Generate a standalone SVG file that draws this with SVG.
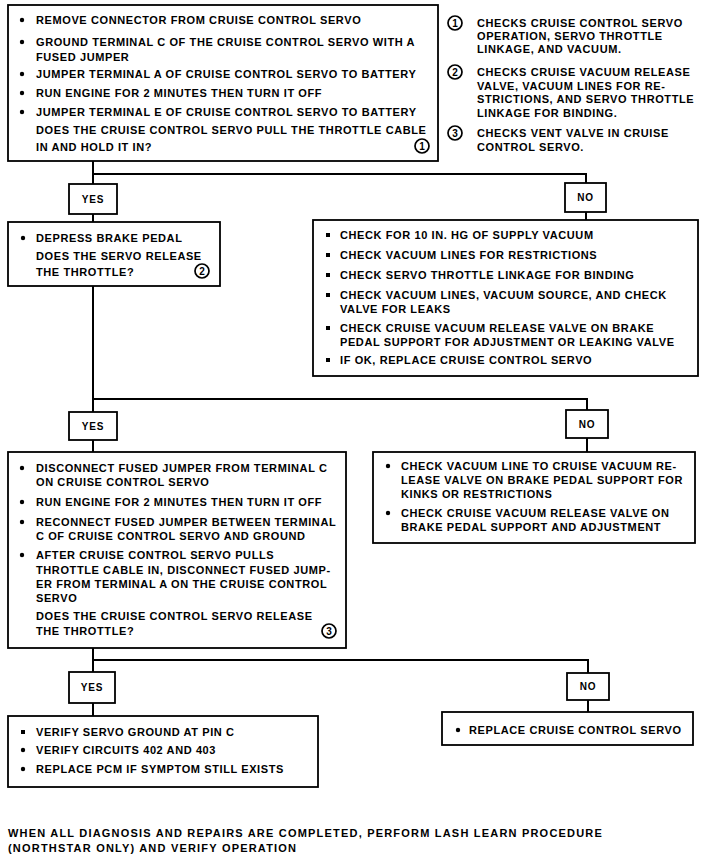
<svg xmlns="http://www.w3.org/2000/svg" width="720" height="868" viewBox="0 0 720 868">
<style>
.bx{fill:#fff;stroke:#000;stroke-width:1.8}
.ln{fill:none;stroke:#000;stroke-width:2}
text{font-family:"Liberation Sans",Arial,sans-serif;font-weight:bold;font-size:11px;letter-spacing:0.6px;fill:#000}
.lbl{text-anchor:middle;font-size:10px;letter-spacing:0.8px}
.num{text-anchor:middle;font-size:10px;letter-spacing:0}
.ft{letter-spacing:1.2px}
.cir{fill:#fff;stroke:#000;stroke-width:1.7}
.bul{fill:#000}
</style>
<rect width="720" height="868" fill="#fff"/>
<g id="connectors">
<path class="ln" d="M93,161 V184 M93,214 V222 M93,174 H586 V183 M586,212 V220"/>
<path class="ln" d="M93,286 V412 M93,440 V452 M93,399 H587 V410 M587,438 V452"/>
<path class="ln" d="M93,648 V672 M93,703 V716 M93,660 H588 V673 M588,700 V712"/>
</g>
<g id="step1">
<rect class="bx" x="8" y="5" width="430" height="156"/>
<circle class="bul" cx="22" cy="20" r="2.2"/>
<text x="36" y="24">REMOVE CONNECTOR FROM CRUISE CONTROL SERVO</text>
<circle class="bul" cx="22" cy="42" r="2.2"/>
<text x="36" y="46">GROUND TERMINAL C OF THE CRUISE CONTROL SERVO WITH A</text>
<text x="36" y="61">FUSED JUMPER</text>
<circle class="bul" cx="22" cy="74" r="2.2"/>
<text x="36" y="78">JUMPER TERMINAL A OF CRUISE CONTROL SERVO TO BATTERY</text>
<circle class="bul" cx="22" cy="93" r="2.2"/>
<text x="36" y="97">RUN ENGINE FOR 2 MINUTES THEN TURN IT OFF</text>
<circle class="bul" cx="22" cy="112" r="2.2"/>
<text x="36" y="116">JUMPER TERMINAL E OF CRUISE CONTROL SERVO TO BATTERY</text>
<text x="36" y="134">DOES THE CRUISE CONTROL SERVO PULL THE THROTTLE CABLE</text>
<text x="36" y="151">IN AND HOLD IT IN?</text>
<circle class="cir" cx="422" cy="146" r="7"/>
<text class="num" x="422" y="149.5">1</text>
</g>
<g id="legend">
<circle class="cir" cx="455" cy="23" r="7"/>
<text class="num" x="455" y="26.5">1</text>
<text x="477" y="27">CHECKS CRUISE CONTROL SERVO</text>
<text x="477" y="40">OPERATION, SERVO THROTTLE</text>
<text x="477" y="53">LINKAGE, AND VACUUM.</text>
<circle class="cir" cx="455" cy="72" r="7"/>
<text class="num" x="455" y="75.5">2</text>
<text x="477" y="76">CHECKS CRUISE VACUUM RELEASE</text>
<text x="477" y="90">VALVE, VACUUM LINES FOR RE-</text>
<text x="477" y="103">STRICTIONS, AND SERVO THROTTLE</text>
<text x="477" y="117">LINKAGE FOR BINDING.</text>
<circle class="cir" cx="455" cy="133" r="7"/>
<text class="num" x="455" y="136.5">3</text>
<text x="477" y="137">CHECKS VENT VALVE IN CRUISE</text>
<text x="477" y="151">CONTROL SERVO.</text>
</g>
<g id="yes1">
<rect class="bx" x="69" y="184" width="48" height="30"/>
<text class="lbl" x="93" y="203">YES</text>
</g>
<g id="no1">
<rect class="bx" x="565" y="183" width="41" height="29"/>
<text class="lbl" x="585.5" y="201">NO</text>
</g>
<g id="step2">
<rect class="bx" x="8" y="222" width="212" height="64"/>
<circle class="bul" cx="23" cy="238" r="2.2"/>
<text x="36" y="242">DEPRESS BRAKE PEDAL</text>
<text x="36" y="260">DOES THE SERVO RELEASE</text>
<text x="36" y="276">THE THROTTLE?</text>
<circle class="cir" cx="202" cy="271" r="7"/>
<text class="num" x="202" y="274.5">2</text>
</g>
<g id="check1">
<rect class="bx" x="313" y="220" width="385" height="156"/>
<rect class="bul" x="326" y="233" width="4" height="4"/>
<text x="340" y="239">CHECK FOR 10 IN. HG OF SUPPLY VACUUM</text>
<rect class="bul" x="326" y="253" width="4" height="4"/>
<text x="340" y="259">CHECK VACUUM LINES FOR RESTRICTIONS</text>
<rect class="bul" x="326" y="273" width="4" height="4"/>
<text x="340" y="279">CHECK SERVO THROTTLE LINKAGE FOR BINDING</text>
<rect class="bul" x="326" y="293" width="4" height="4"/>
<text x="340" y="299">CHECK VACUUM LINES, VACUUM SOURCE, AND CHECK</text>
<text x="340" y="313">VALVE FOR LEAKS</text>
<rect class="bul" x="326" y="326" width="4" height="4"/>
<text x="340" y="332">CHECK CRUISE VACUUM RELEASE VALVE ON BRAKE</text>
<text x="340" y="346">PEDAL SUPPORT FOR ADJUSTMENT OR LEAKING VALVE</text>
<rect class="bul" x="326" y="358" width="4" height="4"/>
<text x="340" y="364">IF OK, REPLACE CRUISE CONTROL SERVO</text>
</g>
<g id="yes2">
<rect class="bx" x="69" y="412" width="48" height="28"/>
<text class="lbl" x="93" y="430">YES</text>
</g>
<g id="no2">
<rect class="bx" x="566" y="410" width="42" height="28"/>
<text class="lbl" x="587" y="428">NO</text>
</g>
<g id="step3">
<rect class="bx" x="8" y="452" width="338" height="196"/>
<circle class="bul" cx="22" cy="468" r="2.2"/>
<text x="36" y="472">DISCONNECT FUSED JUMPER FROM TERMINAL C</text>
<text x="36" y="486">ON CRUISE CONTROL SERVO</text>
<circle class="bul" cx="22" cy="502" r="2.2"/>
<text x="36" y="506">RUN ENGINE FOR 2 MINUTES THEN TURN IT OFF</text>
<circle class="bul" cx="22" cy="522" r="2.2"/>
<text x="36" y="526">RECONNECT FUSED JUMPER BETWEEN TERMINAL</text>
<text x="36" y="540">C OF CRUISE CONTROL SERVO AND GROUND</text>
<circle class="bul" cx="22" cy="555" r="2.2"/>
<text x="36" y="559">AFTER CRUISE CONTROL SERVO PULLS</text>
<text x="36" y="574">THROTTLE CABLE IN, DISCONNECT FUSED JUMP-</text>
<text x="36" y="588">ER FROM TERMINAL A ON THE CRUISE CONTROL</text>
<text x="36" y="602">SERVO</text>
<text x="36" y="620">DOES THE CRUISE CONTROL SERVO RELEASE</text>
<text x="36" y="635">THE THROTTLE?</text>
<circle class="cir" cx="329" cy="631" r="7"/>
<text class="num" x="329" y="634.5">3</text>
</g>
<g id="check2">
<rect class="bx" x="373" y="452" width="322" height="91"/>
<circle class="bul" cx="388" cy="466" r="2.2"/>
<text x="401" y="470">CHECK VACUUM LINE TO CRUISE VACUUM RE-</text>
<text x="401" y="484">LEASE VALVE ON BRAKE PEDAL SUPPORT FOR</text>
<text x="401" y="498">KINKS OR RESTRICTIONS</text>
<circle class="bul" cx="388" cy="513" r="2.2"/>
<text x="401" y="517">CHECK CRUISE VACUUM RELEASE VALVE ON</text>
<text x="401" y="531">BRAKE PEDAL SUPPORT AND ADJUSTMENT</text>
</g>
<g id="yes3">
<rect class="bx" x="69" y="672" width="46" height="31"/>
<text class="lbl" x="92" y="691">YES</text>
</g>
<g id="no3">
<rect class="bx" x="567" y="673" width="42" height="27"/>
<text class="lbl" x="588" y="690">NO</text>
</g>
<g id="verify">
<rect class="bx" x="8" y="716" width="310" height="71"/>
<rect class="bul" x="21" y="730" width="4" height="4"/>
<text x="36" y="736">VERIFY SERVO GROUND AT PIN C</text>
<circle class="bul" cx="23" cy="750" r="2.2"/>
<text x="36" y="754">VERIFY CIRCUITS 402 AND 403</text>
<circle class="bul" cx="23" cy="769" r="2.2"/>
<text x="36" y="773">REPLACE PCM IF SYMPTOM STILL EXISTS</text>
</g>
<g id="replace">
<rect class="bx" x="442" y="712" width="251" height="33"/>
<circle class="bul" cx="458" cy="730" r="2.2"/>
<text x="469" y="734">REPLACE CRUISE CONTROL SERVO</text>
</g>
<g id="footer">
<text class="ft" x="8" y="837">WHEN ALL DIAGNOSIS AND REPAIRS ARE COMPLETED, PERFORM LASH LEARN PROCEDURE</text>
<text class="ft" x="8" y="852">(NORTHSTAR ONLY) AND VERIFY OPERATION</text>
</g>
</svg>
